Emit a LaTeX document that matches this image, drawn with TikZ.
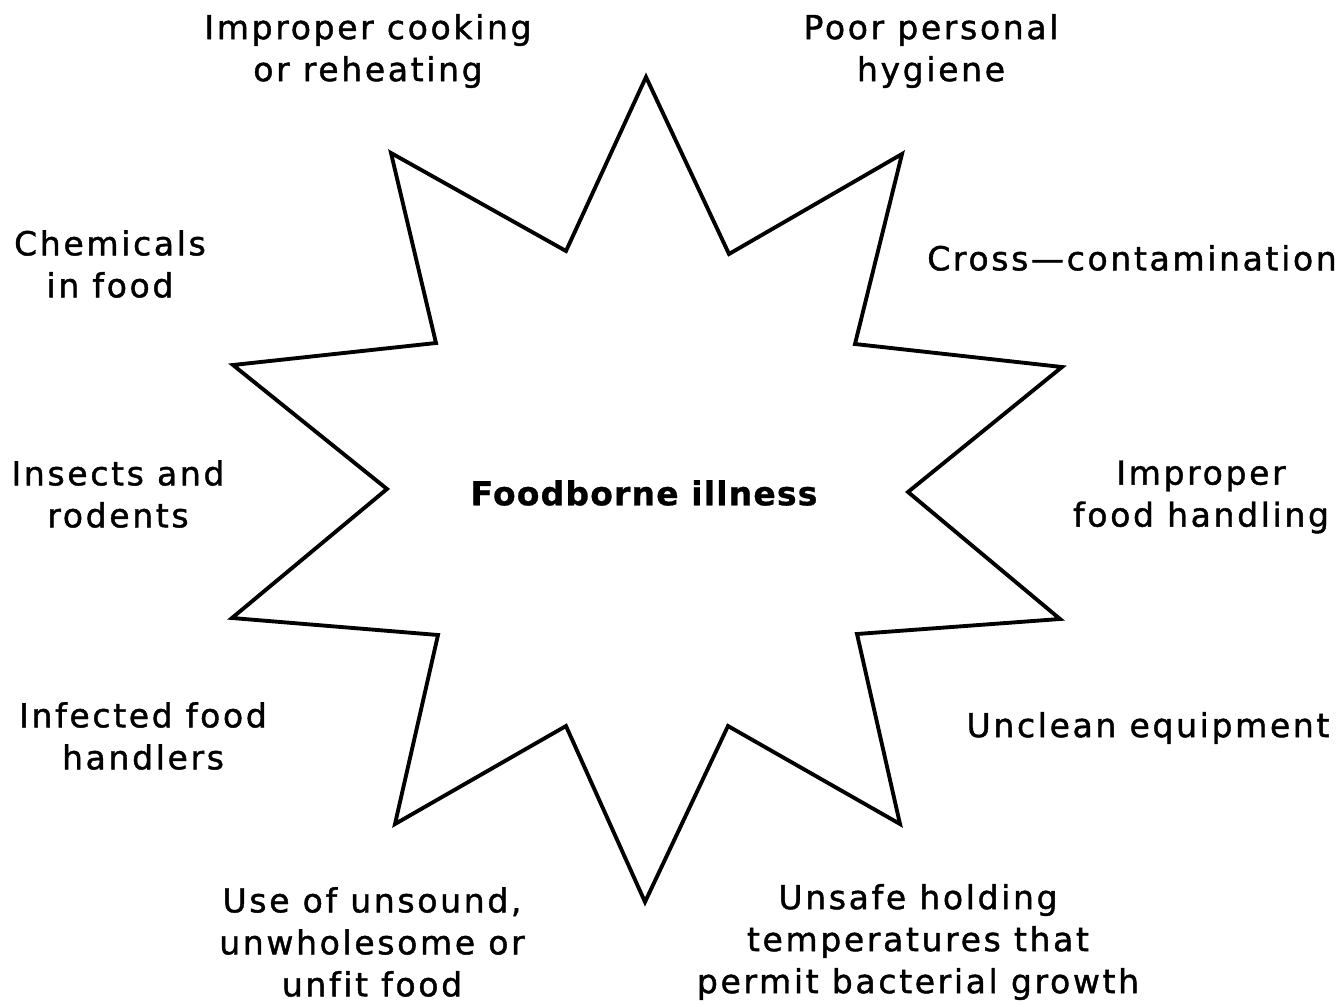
\documentclass[tikz,border=0pt]{standalone}
\usepackage{fontspec}
\setmainfont{DejaVu Sans}[LetterSpace=8, Ligatures=NoCommon, FakeBold=1.3,
  BoldFeatures={FakeBold=0.8, LetterSpace=3.5}]
\begin{document}
\begin{tikzpicture}[x=0.02cm,y=-0.02cm,
  lbl/.style={align=center, inner sep=0pt, font=\fontsize{18.8}{23.9}\selectfont},
  starline/.style={line width=2.2pt, line join=miter}]
\useasboundingbox (0,0) rectangle (1342,1007);
\draw[starline] (646,77) -- (729,254) -- (902,154) -- (855,344) -- (1062,367)
  -- (908,492) -- (1060,619) -- (857,634) -- (900,824) -- (728,726)
  -- (645,902) -- (566,726) -- (395,824) -- (438,635) -- (232,618)
  -- (387,489) -- (233,365) -- (436,343) -- (391,153) -- (566,251) -- cycle;
\node[lbl, font=\fontsize{18.8}{23.9}\selectfont\bfseries] (center) at (644,493) {Foodborne illness};
\node[lbl] (cook) at (368,51) {Improper cooking\\or reheating};
\node[lbl] (hyg) at (931,51) {Poor personal\\hygiene};
\node[lbl] (chem) at (110,264) {Chemicals\\in food};
\node[lbl] (cross) at (1132,258) {Cross—contamination};
\node[lbl] (ins) at (118,494) {Insects and\\rodents};
\node[lbl] (hand) at (1201,497) {Improper\\food handling};
\node[lbl] (inf) at (143,736) {Infected food\\handlers};
\node[lbl] (uncl) at (1148,728) {Unclean equipment};
\node[lbl] (unsound) at (372,942) {Use of unsound,\\unwholesome or\\unfit food};
\node[lbl] (temp) at (918,942) {Unsafe holding\\temperatures that\\permit bacterial growth};
\end{tikzpicture}
\end{document}
